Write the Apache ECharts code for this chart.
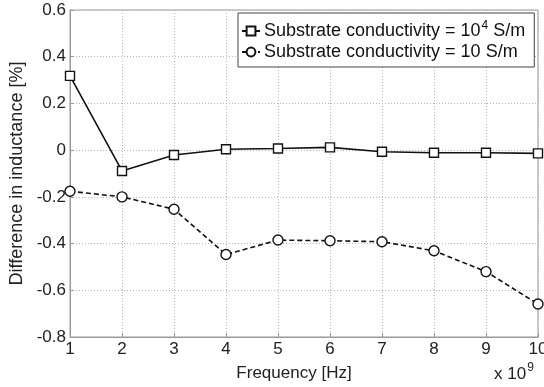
<!DOCTYPE html>
<html>
<head>
<meta charset="utf-8">
<script src="https://cdn.jsdelivr.net/npm/echarts@6/dist/echarts.min.js"></script>
<style>
  html, body { margin: 0; padding: 0; background: #fff; }
  #chart { width: 544px; height: 387px; }
</style>
</head>
<body>
<div id="chart"></div>
<script>
// frequency in units of 1e9 Hz
const freq = [1, 2, 3, 4, 5, 6, 7, 8, 9, 10];
// difference in inductance [%]
const highCond = [0.318, -0.089, -0.021, 0.004, 0.007, 0.012, -0.007, -0.011, -0.011, -0.014];
const lowCond = [-0.176, -0.2, -0.253, -0.447, -0.385, -0.388, -0.392, -0.431, -0.52, -0.659];
const seriesNames = ['high', 'low'];
const legendLabels = {
  high: 'Substrate conductivity = 10{sup|4} S/m',
  low: 'Substrate conductivity = 10 S/m'
};
const yTicks = { min: -0.8, max: 0.6, step: 0.2 };
const xTicks = { min: 1, max: 10, step: 1 };

const font = 'Liberation Sans, Arial, sans-serif';
const chart = echarts.init(document.getElementById('chart'), null, { renderer: 'canvas' });

const gridLine = { show: true, lineStyle: { color: '#b5b5b5', type: [1, 2], width: 1 } };

chart.setOption({
  animation: false,
  backgroundColor: '#fff',
  grid: {
    left: 70, right: 6, top: 10, bottom: 50,
    outerBoundsMode: 'none', containLabel: false,
    show: true, borderColor: '#999', borderWidth: 1
  },
  legend: {
    data: seriesNames,
    left: 238,
    top: 13,
    orient: 'vertical',
    itemWidth: 18,
    itemHeight: 11,
    itemGap: 1,
    padding: [7, 9, 5, 3],
    backgroundColor: '#fff',
    borderColor: '#444',
    borderWidth: 1,
    formatter: (name) => legendLabels[name],
    textStyle: {
      fontFamily: font,
      fontSize: 18,
      lineHeight: 20,
      color: '#111',
      padding: [0, 0, 0, -1],
      rich: {
        sup: { fontSize: 12, lineHeight: 12, verticalAlign: 'bottom', padding: [0, 0, 9, 1], fontFamily: font, color: '#111' }
      }
    }
  },
  xAxis: {
    type: 'value',
    min: xTicks.min,
    max: xTicks.max,
    interval: xTicks.step,
    name: 'Frequency [Hz]',
    nameLocation: 'middle',
    nameGap: 28,
    nameTextStyle: { fontFamily: font, fontSize: 17, color: '#222', padding: [0, 20, 0, 0] },
    axisLine: { show: true, onZero: false, lineStyle: { color: '#999' } },
    axisTick: { inside: true, length: 4, lineStyle: { color: '#999' } },
    axisLabel: { fontFamily: font, fontSize: 17, color: '#222', margin: 4 },
    splitLine: gridLine
  },
  yAxis: {
    type: 'value',
    min: yTicks.min,
    max: yTicks.max,
    interval: yTicks.step,
    name: 'Difference in inductance [%]',
    nameLocation: 'middle',
    nameGap: 43,
    nameTextStyle: { fontFamily: font, fontSize: 18, color: '#222' },
    axisLine: { show: true, onZero: false, lineStyle: { color: '#999' } },
    axisTick: { inside: true, length: 4, lineStyle: { color: '#999' } },
    axisLabel: {
      fontFamily: font, fontSize: 17, color: '#222', margin: 4,
      formatter: (v) => { const r = Math.round(v * 10) / 10; return r === 0 ? '0' : r.toFixed(1); }
    },
    splitLine: gridLine
  },
  graphic: [{
    type: 'text',
    left: 494,
    top: 362,
    style: {
      text: 'x 10{s|9}',
      font: '17px ' + font,
      fill: '#222',
      rich: { s: { fontSize: 12, lineHeight: 12, verticalAlign: 'bottom', padding: [0, 0, 9, 1], fontFamily: font, fill: '#222' } }
    }
  }],
  series: [
    {
      name: seriesNames[0],
      type: 'line',
      data: freq.map((f, i) => [f, highCond[i]]),
      symbol: 'rect',
      symbolSize: 9,
      showAllSymbol: true,
      lineStyle: { color: '#111', width: 1.6, type: 'solid' },
      itemStyle: { color: '#fff', borderColor: '#111', borderWidth: 1.4 }
    },
    {
      name: seriesNames[1],
      type: 'line',
      data: freq.map((f, i) => [f, lowCond[i]]),
      symbol: 'circle',
      symbolSize: 10,
      showAllSymbol: true,
      lineStyle: { color: '#111', width: 1.6, type: [5, 3] },
      itemStyle: { color: '#fff', borderColor: '#111', borderWidth: 1.4 }
    }
  ]
});
</script>
</body>
</html>
